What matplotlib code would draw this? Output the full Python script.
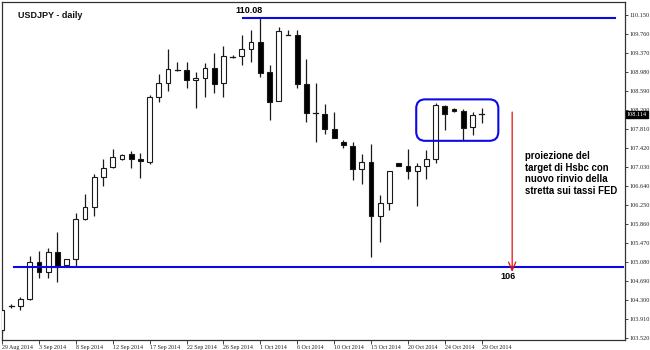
import matplotlib
matplotlib.use('Agg')
import matplotlib.pyplot as plt
from matplotlib.patches import Rectangle, FancyBboxPatch, FancyArrowPatch
from matplotlib.transforms import IdentityTransform, blended_transform_factory

# ---------------- data ----------------
opens = [103.70, 104.17, 104.18, 104.32, 105.09, 104.87, 105.30, 105.02, 105.14, 105.96,
         106.22, 106.82, 107.03, 107.19, 107.29, 107.19, 107.14, 108.47, 108.76, 109.02,
         109.02, 108.82, 108.85, 109.07, 108.75, 109.30, 109.31, 109.45, 109.60, 108.99,
         108.39, 109.75, 109.74, 108.73, 108.13, 108.13, 107.81, 107.54, 107.47, 106.99,
         107.14, 106.03, 106.29, 107.11, 107.05, 106.96, 107.06, 107.20, 108.28, 108.22,
         108.18, 107.86, 108.11]
highs = [104.12, 104.22, 104.36, 105.21, 105.31, 105.37, 105.69, 105.15, 106.08, 106.48,
         106.89, 107.19, 107.40, 107.29, 107.36, 107.33, 108.51, 108.94, 109.45, 109.19,
         109.19, 108.99, 109.16, 109.38, 109.51, 109.33, 109.74, 109.84, 110.08, 109.12,
         109.91, 109.84, 109.84, 109.24, 108.75, 108.32, 108.17, 107.59, 107.55, 107.30,
         107.50, 106.46, 106.96, 107.11, 107.40, 107.11, 107.38, 108.34, 108.30, 108.25,
         108.22, 108.17, 108.24]
lows = [103.62, 104.14, 104.10, 104.30, 104.75, 104.75, 104.68, 105.00, 104.99, 105.94,
        106.03, 106.64, 107.02, 107.18, 107.01, 106.80, 107.09, 108.37, 108.60, 109.01,
        108.66, 108.25, 108.46, 108.56, 108.47, 109.27, 109.12, 109.19, 108.87, 108.00,
        108.38, 109.74, 108.65, 107.95, 107.55, 107.70, 107.62, 107.43, 106.77, 106.68,
        105.19, 105.50, 106.15, 107.05, 106.78, 106.23, 106.78, 107.11, 107.79, 108.17,
        107.59, 107.69, 107.93]
closes = [104.10, 104.18, 104.32, 105.09, 104.87, 105.30, 104.99, 105.14, 105.96, 106.22,
          106.83, 107.01, 107.23, 107.28, 107.19, 107.15, 108.47, 108.76, 109.04, 109.02,
          108.82, 108.86, 109.07, 108.73, 109.31, 109.28, 109.45, 109.60, 108.97, 108.37,
          109.83, 109.75, 108.73, 108.15, 108.14, 107.82, 107.62, 107.48, 106.99, 107.14,
          106.03, 106.29, 106.95, 107.05, 106.96, 107.06, 107.20, 108.30, 108.11, 108.18,
          107.84, 108.09, 108.114]

date_labels = ["29 Aug 2014", "3 Sep 2014", "8 Sep 2014", "12 Sep 2014", "17 Sep 2014",
               "22 Sep 2014", "26 Sep 2014", "1 Oct 2014", "6 Oct 2014", "10 Oct 2014",
               "15 Oct 2014", "20 Oct 2014", "24 Oct 2014", "29 Oct 2014"]
price_ticks = [110.150, 109.760, 109.370, 108.980, 108.590, 108.200, 107.810, 107.420,
               107.030, 106.640, 106.250, 105.860, 105.470, 105.080, 104.690, 104.300,
               103.910, 103.520]
level_values = [110.08, 104.99]
level_labels = ["110.08", "106"]
last_price = 108.114
title = "USDJPY - daily"
note = "proiezione del\ntarget di Hsbc con\nnuovo rinvio della\nstretta sui tassi FED"

# ---------------- figure ----------------
W, H = 650, 350
fig = plt.figure(figsize=(W / 100, H / 100), dpi=100)
fig.patch.set_facecolor('white')
ax = fig.add_axes([2 / W, 10 / H, 623 / W, 338 / H])
ax.set_facecolor('white')
ax.set_xlim(0.03, 67.53)
ax.set_ylim(103.485, 110.417)

body_w = 0.52
edge = '#1a1a1a'
for i, (o, h, l, c) in enumerate(zip(opens, highs, lows, closes)):
    ax.plot([i, i], [l, h], color=edge, lw=0.9, zorder=2, solid_capstyle='butt')
    lo, hi = min(o, c), max(o, c)
    if hi - lo < 0.02:
        ax.plot([i - body_w / 2, i + body_w / 2], [c, c], color=edge, lw=0.9, zorder=3)
    else:
        fc = 'white' if c > o else 'black'
        ax.add_patch(Rectangle((i - body_w / 2, lo), body_w, hi - lo, facecolor=fc,
                               edgecolor=edge, lw=0.8, zorder=3))

# horizontal levels
blue = '#0a0ae6'
ax.plot([26.15, 66.45], [level_values[0], level_values[0]], color=blue, lw=1.5, zorder=4)
ax.plot([1.33, 67.3], [level_values[1], level_values[1]], color=blue, lw=1.5, zorder=4)
ax.text(25.3, 110.25, level_labels[0], fontsize=6.5, fontweight='bold',
        family='Liberation Sans', ha='left', va='center', color='black')
ax.text(54.0, 104.78, level_labels[1], fontsize=6.5, fontweight='bold',
        family='Liberation Sans', ha='left', va='center', color='black')

# red arrow
arr = FancyArrowPatch((55.3, 108.16), (55.3, 104.88), arrowstyle='->,head_length=6,head_width=2.6',
                      color='#e01010', lw=0.9, zorder=5, shrinkA=0, shrinkB=0)
ax.add_patch(arr)

# note text
ax.text(56.7, 107.36, note, fontsize=6.9, fontweight='bold', family='Liberation Sans',
        ha='left', va='top', linespacing=1.2, color='black')

# title
fig.text(18 / W, 1 - 16 / H, title, fontsize=6.5, fontweight='bold',
         family='Liberation Sans', ha='left', va='center', color='#111111')

# ticks
ax.yaxis.tick_right()
ax.set_yticks(price_ticks)
ax.set_yticklabels([f"{p:.3f}" for p in price_ticks])
ax.tick_params(axis='y', length=2, width=0.6, pad=1.5, labelsize=4.5, colors='#222222')
for t in ax.get_yticklabels():
    t.set_family('Liberation Serif')

ax.set_xticks(list(range(0, 53, 4)))
ax.set_xticklabels(date_labels)
ax.tick_params(axis='x', length=3, width=0.6, pad=0.3, labelsize=4.3, colors='#222222')
for t in ax.get_xticklabels():
    t.set_family('Liberation Serif')
    t.set_horizontalalignment('left')

for s in ax.spines.values():
    s.set_color('#333333')
    s.set_linewidth(0.9)

# last price box
tr = blended_transform_factory(ax.transAxes, ax.transData)
ax.text(1.003, last_price, f"{last_price:.3f}", transform=tr, fontsize=4.5,
        family='Liberation Serif', color='white', ha='left', va='center', zorder=10,
        bbox=dict(facecolor='black', edgecolor='black', pad=0.8), clip_on=False)

# rounded box around consolidation
fig.canvas.draw()
x0, y0 = ax.transData.transform((44.9, 107.57))
x1, y1 = ax.transData.transform((53.8, 108.42))
box = FancyBboxPatch((x0, y0), x1 - x0, y1 - y0, boxstyle='round,pad=0,rounding_size=9',
                     transform=IdentityTransform(), facecolor='none', edgecolor=blue,
                     lw=1.5, zorder=6)
fig.add_artist(box)

fig.savefig('out.png', dpi=100)
